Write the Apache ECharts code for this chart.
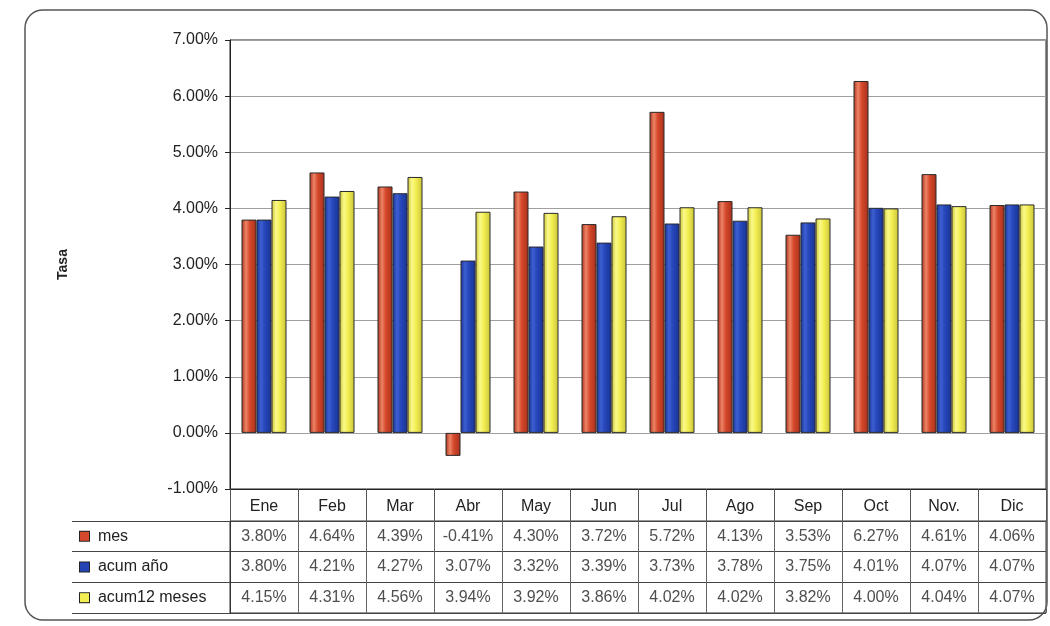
<!DOCTYPE html>
<html>
<head>
<meta charset="utf-8">
<title>Tasa</title>
<script src="https://cdn.jsdelivr.net/npm/echarts@6/dist/echarts.min.js"></script>
<style>
  html, body { margin: 0; padding: 0; background: #fff; }
  #chart { width: 1050px; height: 626px; }
</style>
</head>
<body>
<div id="chart"></div>
<script>
// data
const months = ['Ene', 'Feb', 'Mar', 'Abr', 'May', 'Jun', 'Jul', 'Ago', 'Sep', 'Oct', 'Nov.', 'Dic'];
const seriesNames = ['mes', 'acum año', 'acum12 meses'];
const mes = [3.80, 4.64, 4.39, -0.41, 4.30, 3.72, 5.72, 4.13, 3.53, 6.27, 4.61, 4.06];
const acumAnio = [3.80, 4.21, 4.27, 3.07, 3.32, 3.39, 3.73, 3.78, 3.75, 4.01, 4.07, 4.07];
const acum12 = [4.15, 4.31, 4.56, 3.94, 3.92, 3.86, 4.02, 4.02, 3.82, 4.00, 4.04, 4.07];
const yMin = -1, yMax = 7, yStep = 1;

const FONT = '"Liberation Sans", Arial, sans-serif';
const rows = [mes, acumAnio, acum12];
const baseColors = ['#d4482b', '#2443b5', '#f3ef52'];

const grad = (edge, mid, light) => new echarts.graphic.LinearGradient(0, 0, 1, 0, [
  { offset: 0, color: edge },
  { offset: 0.3, color: light },
  { offset: 0.55, color: mid },
  { offset: 1, color: edge }
]);
const fills = [
  grad('#a8301a', '#d4482b', '#ee8466'),
  grad('#1a3394', '#2647bb', '#3d5fd0'),
  grad('#c9c43a', '#f3ef52', '#fbf98a')
];

const tableData = rows.flatMap((r, s) => r.map((v, i) => [i, s, v]));

const chart = echarts.init(document.getElementById('chart'));

chart.setOption({
  animation: false,
  textStyle: { fontFamily: FONT },
  graphic: [{
    type: 'rect',
    shape: { x: 25, y: 10, width: 1022, height: 610, r: 18 },
    style: { fill: 'none', stroke: '#555', lineWidth: 1.5 },
    silent: true
  }],
  grid: [
    { left: 230, right: 4, top: 40, height: 449, show: true, borderColor: '#222', borderWidth: 1 },
    { left: 230, right: 4, top: 521, height: 92, show: true, borderColor: '#333', borderWidth: 1 }
  ],
  xAxis: [
    {
      gridIndex: 0,
      type: 'category',
      data: months,
      axisLine: { onZero: false, lineStyle: { color: '#222' } },
      axisTick: { show: true, interval: 0, length: 32, lineStyle: { color: '#555' } },
      axisLabel: { interval: 0, margin: 10, fontSize: 16, color: '#222', fontFamily: FONT }
    },
    {
      gridIndex: 1,
      type: 'category',
      data: months,
      axisLine: { show: false },
      axisTick: { show: false },
      axisLabel: { show: false },
      splitLine: { show: true, interval: 0, lineStyle: { color: '#666' } }
    }
  ],
  yAxis: [
    {
      gridIndex: 0,
      type: 'value',
      min: yMin,
      max: yMax,
      interval: yStep,
      name: 'Tasa',
      nameLocation: 'middle',
      nameRotate: 90,
      nameGap: 160,
      nameTextStyle: { fontSize: 14, fontWeight: 'bold', color: '#222', fontFamily: FONT },
      axisLine: { show: true, lineStyle: { color: '#222' } },
      axisTick: { show: true, length: 5, lineStyle: { color: '#222' } },
      axisLabel: {
        margin: 12, fontSize: 16, color: '#222', fontFamily: FONT,
        formatter: v => v.toFixed(2) + '%'
      },
      splitLine: { show: true, lineStyle: { color: '#a0a0a0' } }
    },
    {
      gridIndex: 1,
      type: 'category',
      inverse: true,
      data: seriesNames,
      axisLine: { show: true, lineStyle: { color: '#333' } },
      axisTick: { show: true, length: 158, lineStyle: { color: '#444' } },
      splitLine: { show: true, interval: 0, lineStyle: { color: '#444' } },
      axisLabel: {
        align: 'left',
        margin: 150,
        fontSize: 16,
        color: '#222',
        fontFamily: FONT,
        formatter: (v, i) => '{b' + i + '|}  ' + v,
        rich: {
          b0: { width: 9, height: 9, backgroundColor: baseColors[0], borderColor: '#222', borderWidth: 1 },
          b1: { width: 9, height: 9, backgroundColor: baseColors[1], borderColor: '#222', borderWidth: 1 },
          b2: { width: 9, height: 9, backgroundColor: baseColors[2], borderColor: '#222', borderWidth: 1 }
        }
      }
    }
  ],
  series: [
    ...rows.map((r, s) => ({
      name: seriesNames[s],
      type: 'bar',
      xAxisIndex: 0,
      yAxisIndex: 0,
      data: r,
      barWidth: 15,
      barGap: '0%',
      itemStyle: { color: fills[s], borderColor: '#2a2a2a', borderWidth: 1 }
    })),
    {
      type: 'scatter',
      xAxisIndex: 1,
      yAxisIndex: 1,
      silent: true,
      symbol: 'rect',
      symbolSize: 1,
      itemStyle: { color: 'rgba(0,0,0,0)' },
      data: tableData,
      label: {
        show: true,
        position: 'inside',
        fontSize: 16,
        color: '#222',
        fontFamily: FONT,
        formatter: p => p.value[2].toFixed(2) + '%'
      }
    }
  ]
});
</script>
</body>
</html>
